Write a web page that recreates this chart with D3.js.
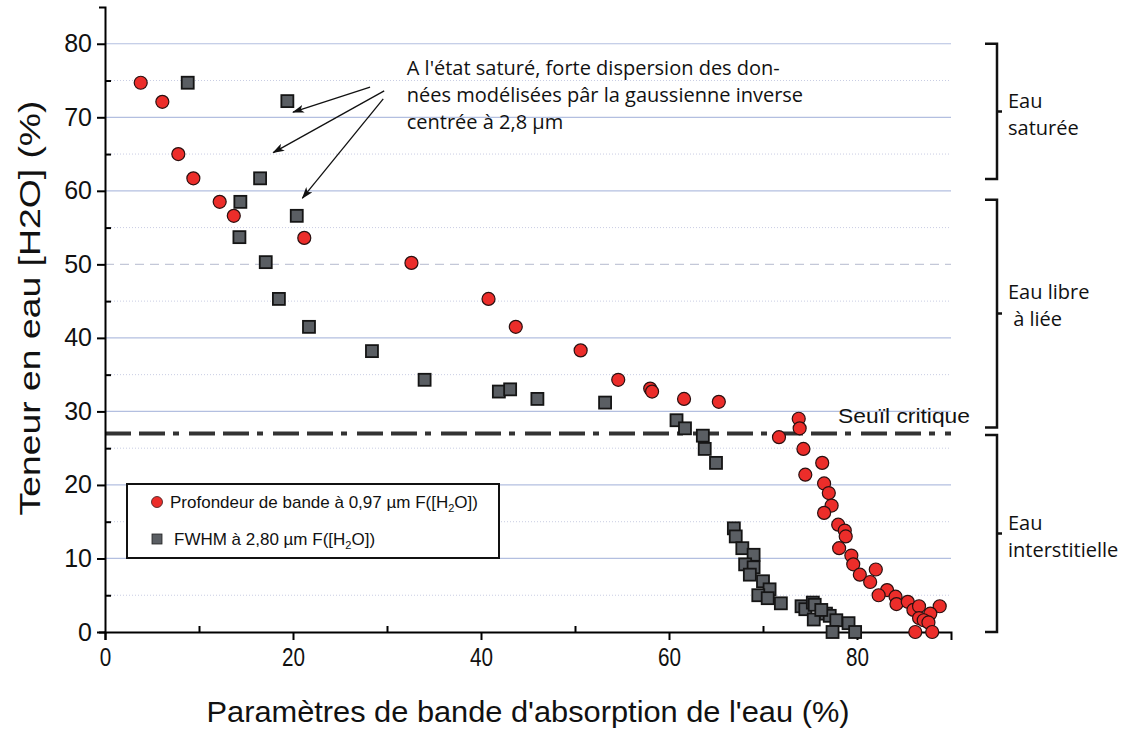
<!DOCTYPE html>
<html><head><meta charset="utf-8">
<script src="https://cdn.jsdelivr.net/npm/d3@7"></script>
<style>body{margin:0;background:#fff}</style>
</head><body><svg id="c" width="1124" height="729"></svg>
<script>
// ---- data ----
const redX=[3.8,6.1,7.8,9.4,12.2,13.7,21.2,32.6,40.8,43.7,50.6,54.6,58.0,58.2,61.6,65.3,
 71.7,73.8,73.9,74.3,76.3,74.5,76.5,77.0,77.3,76.5,78.0,78.7,78.8,78.1,79.4,79.6,82.0,80.3,81.4,
 83.2,82.3,84.1,84.2,85.4,86.0,86.6,88.8,87.8,86.6,87.1,87.6,86.2,88.0];
const redY=[74.7,72.1,65.0,61.7,58.5,56.6,53.6,50.2,45.3,41.5,38.3,34.3,33.1,32.7,31.7,31.3,
 26.5,29.0,27.7,24.9,23.0,21.4,20.2,18.9,17.2,16.2,14.6,13.8,13.0,11.4,10.4,9.2,8.5,7.8,6.8,
 5.7,5.0,4.8,3.8,4.1,3.0,3.5,3.5,2.5,1.9,1.6,1.3,0.0,0.0];
const grayX=[8.8,19.4,16.5,14.4,20.4,14.3,17.1,18.5,21.7,28.4,34.0,41.9,43.1,46.0,53.2,60.8,61.7,63.6,63.8,65.0,
 66.9,67.1,67.8,69.0,68.1,69.0,68.6,70.0,70.7,69.5,70.5,71.9,74.1,74.5,75.3,75.5,75.4,76.7,77.1,77.8,79.1,77.4,79.8,76.2];
const grayY=[74.7,72.2,61.7,58.5,56.6,53.7,50.3,45.3,41.5,38.2,34.3,32.7,33.0,31.7,31.2,28.8,27.7,26.7,24.9,23.0,
 14.1,13.0,11.4,10.5,9.2,8.8,7.8,6.9,5.8,5.0,4.6,3.9,3.5,3.1,4.0,3.7,1.7,2.5,2.2,1.6,1.2,0.0,0.0,3.0];
const xTicks=[0,20,40,60,80], xMinor=[10,30,50,70];
const yTicks=[0,10,20,30,40,50,60,70,80], yMinor=[5,15,25,35,45,55,65,75];
const threshold=27;
const bracketLo=[61.6,27.8,0], bracketHi=[80,58.8,26.8];
const bracketLabels=[["Eau","saturée"],["Eau libre"," à liée"],["Eau","interstitielle"]];
const legendLabels=["Profondeur de bande à 0,97 µm F([H","FWHM à 2,80 µm F([H"];
const noteLines=["A l'état saturé, forte dispersion des don-","nées modélisées pâr la gaussienne inverse","centrée à 2,8 µm"];
const arrowFrom=[[28.2,74.1],[29.7,73.6],[29.6,72.5]];
const arrowTo=[[20.0,70.7],[17.9,65.2],[21.0,59.0]];

// ---- chart ----
const svg=d3.select("#c");
const x=d3.scaleLinear().domain([0,90]).range([105,951]);
const y=d3.scaleLinear().domain([0,85]).range([632,7]);
const ARIAL="'Liberation Sans', Arial, sans-serif", MYR="'Open Sans', sans-serif";
const RED="#ec2d2a", GRAY="#5a5e63";
const labelShift=[0,-12,0];

svg.append("defs").append("marker").attr("id","ah").attr("viewBox","0 0 12 8")
 .attr("refX",11).attr("refY",4).attr("markerWidth",12).attr("markerHeight",8)
 .attr("markerUnits","userSpaceOnUse").attr("orient","auto")
 .append("path").attr("d","M0,0 L12,4 L0,8 L3,4 Z").attr("fill","#111");

// grid
const g=svg.append("g");
[10,20,30,40,60,70,80].forEach(v=>g.append("line").attr("x1",x(0)).attr("x2",x(90)).attr("y1",y(v)).attr("y2",y(v))
  .attr("stroke","#b3bfe0").attr("stroke-width",1.2));
g.append("line").attr("x1",x(0)).attr("x2",x(90)).attr("y1",y(50)).attr("y2",y(50))
  .attr("stroke","#c4c8d8").attr("stroke-width",1.2).attr("stroke-dasharray","9,6");
yMinor.forEach(v=>g.append("line").attr("x1",x(0)).attr("x2",x(90)).attr("y1",y(v)).attr("y2",y(v))
  .attr("stroke","#c9cde3").attr("stroke-width",1).attr("stroke-dasharray","1,2"));

// threshold
svg.append("line").attr("x1",x(0)).attr("x2",x(90)).attr("y1",y(threshold)).attr("y2",y(threshold))
 .attr("stroke","#333").attr("stroke-width",4).attr("stroke-dasharray","26,8,26,8,6,10");
svg.append("text").attr("x",838).attr("y",y(threshold)-10).attr("font-family",ARIAL).attr("font-size",21)
 .attr("textLength",132).attr("lengthAdjust","spacingAndGlyphs").attr("fill","#111").text("Seuïl critique");

// axes
const ya=svg.append("g").attr("transform",`translate(${x(0)},0)`)
 .call(d3.axisLeft(y).tickValues(yTicks).tickSize(8).tickSizeOuter(6).tickPadding(5).tickFormat(d3.format("d")));
ya.selectAll("path,line").attr("stroke","#000").attr("stroke-width",2);
ya.selectAll("text").attr("font-family",ARIAL).attr("font-size",25).attr("fill","#111");
const ym=svg.append("g").attr("transform",`translate(${x(0)},0)`)
 .call(d3.axisLeft(y).tickValues(yMinor).tickSize(-6).tickFormat(""));
ym.select(".domain").remove(); ym.selectAll("line").attr("stroke","#000").attr("stroke-width",2);

const xa=svg.append("g").attr("transform",`translate(0,${y(0)})`)
 .call(d3.axisBottom(x).tickValues(xTicks).tickSize(8).tickSizeOuter(8).tickPadding(8).tickFormat(d3.format("d")));
xa.selectAll("path,line").attr("stroke","#000").attr("stroke-width",2);
xa.selectAll("text").attr("font-family",ARIAL).attr("font-size",25).attr("fill","#111")
 .attr("textLength",d=>String(d).length*11.5).attr("lengthAdjust","spacingAndGlyphs");
const xm=svg.append("g").attr("transform",`translate(0,${y(0)})`)
 .call(d3.axisBottom(x).tickValues(xMinor).tickSize(-6).tickFormat(""));
xm.select(".domain").remove(); xm.selectAll("line").attr("stroke","#000").attr("stroke-width",2);

// axis titles
svg.append("text").attr("x",528).attr("y",722).attr("text-anchor","middle").attr("font-family",ARIAL)
 .attr("font-size",29).attr("fill","#111").attr("textLength",643).attr("lengthAdjust","spacingAndGlyphs")
 .text("Paramètres de bande d'absorption de l'eau (%)");
svg.append("text").attr("transform","translate(40,308) rotate(-90)").attr("text-anchor","middle")
 .attr("font-family",ARIAL).attr("font-size",29).attr("fill","#111").attr("textLength",415)
 .attr("lengthAdjust","spacingAndGlyphs").text("Teneur en eau [H2O] (%)");

// marks
svg.append("g").selectAll("rect").data(grayX.map((v,i)=>[v,grayY[i]])).join("rect")
 .attr("x",d=>x(d[0])-6).attr("y",d=>y(d[1])-6).attr("width",12).attr("height",12)
 .attr("fill",GRAY).attr("stroke","#151515").attr("stroke-width",1.8);
svg.append("g").selectAll("circle").data(redX.map((v,i)=>[v,redY[i]])).join("circle")
 .attr("cx",d=>x(d[0])).attr("cy",d=>y(d[1])).attr("r",6.5)
 .attr("fill",RED).attr("stroke","#2a1010").attr("stroke-width",1.2);

// annotation
const note=svg.append("text").attr("font-family",MYR).attr("font-size",20).attr("fill","#111");
noteLines.forEach((t,i)=>note.append("tspan").attr("x",x(32.1)).attr("y",75+i*27).text(t));
arrowFrom.forEach((f,i)=>svg.append("line").attr("x1",x(f[0])).attr("y1",y(f[1]))
 .attr("x2",x(arrowTo[i][0])).attr("y2",y(arrowTo[i][1])).attr("stroke","#111").attr("stroke-width",1.3)
 .attr("marker-end","url(#ah)"));

// brackets
bracketLo.forEach((lo,i)=>{
  const y0=y(bracketHi[i]), y1=y(lo), mid=(y0+y1)/2;
  svg.append("path").attr("d",`M985,${y0} H997 V${y1} H985 M997,${mid} H1002`)
   .attr("fill","none").attr("stroke","#111").attr("stroke-width",2.5);
  const t=svg.append("text").attr("font-family",MYR).attr("font-size",20).attr("fill","#111");
  bracketLabels[i].forEach((s,j)=>t.append("tspan").attr("x",1008).attr("y",mid-3+labelShift[i]+j*27)
   .attr("xml:space","preserve").style("white-space","pre").text(s));
});

// legend
const lg=svg.append("g");
lg.append("rect").attr("x",127).attr("y",484).attr("width",372).attr("height",74)
 .attr("fill","#fff").attr("stroke","#111").attr("stroke-width",2);
lg.append("circle").attr("cx",157).attr("cy",502).attr("r",5.5).attr("fill",RED).attr("stroke","#3a1a1a").attr("stroke-width",0.8);
lg.append("rect").attr("x",152).attr("y",534).attr("width",10).attr("height",10).attr("fill",GRAY).attr("stroke","#222").attr("stroke-width",0.8);
[[170,508],[174,545]].forEach((p,i)=>{
  const t=lg.append("text").attr("x",p[0]).attr("y",p[1]).attr("font-family",ARIAL).attr("font-size",17).attr("fill","#111");
  t.append("tspan").text(legendLabels[i]);
  t.append("tspan").attr("font-size",11).attr("dy",4).text("2");
  t.append("tspan").attr("dy",-4).text("O])");
});
</script></body></html>
